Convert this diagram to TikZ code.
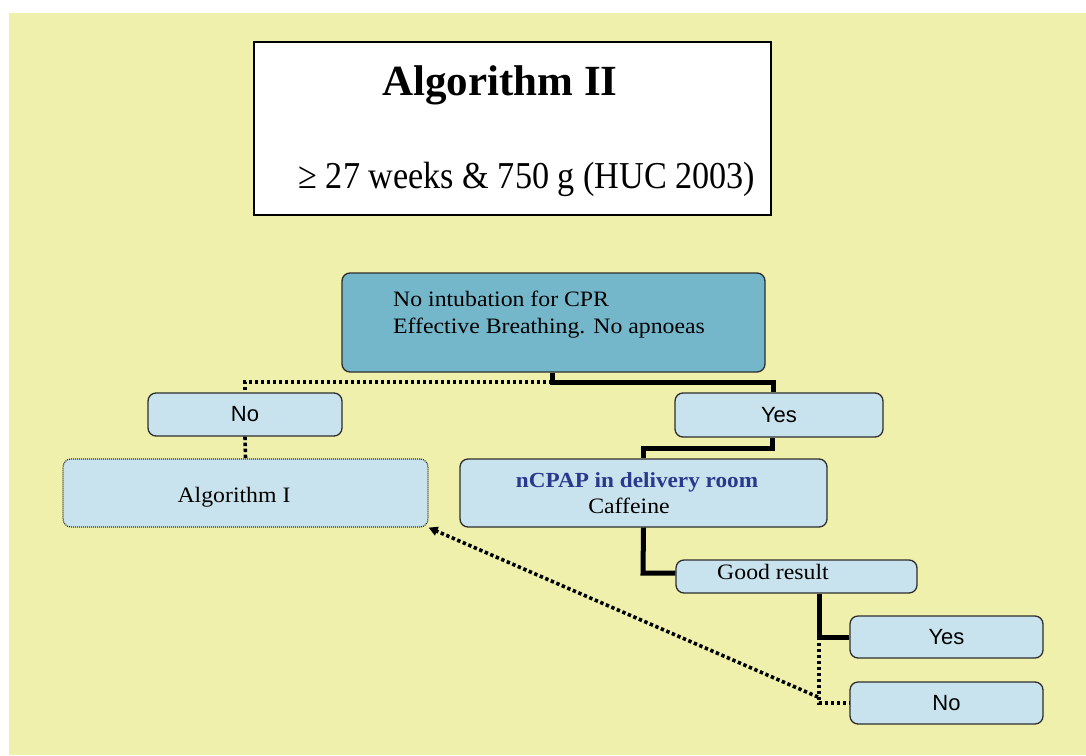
\documentclass[tikz,border=0pt]{standalone}
\usepackage{fontspec}
\setmainfont[FakeStretch=1.08]{Liberation Serif}
\newfontfamily\titlefont{Liberation Serif}
\newfontfamily\subtitlefont[FakeStretch=0.9]{Liberation Serif}
\newfontfamily\arialf{Liberation Sans}
\usetikzlibrary{arrows.meta}
\definecolor{bgyellow}{RGB}{239,240,171}
\definecolor{topblue}{RGB}{117,183,202}
\definecolor{lightblue}{RGB}{201,227,238}
\definecolor{boxborder}{RGB}{45,45,45}
\definecolor{navy}{RGB}{43,57,140}
\tikzset{
  flowbox/.style={draw=boxborder, line width=1.3pt, rounded corners=8pt, fill=lightblue, inner sep=0pt},
  dotbox/.style={draw=boxborder, line width=1.2pt, dash pattern=on 1pt off 1pt, rounded corners=8pt, fill=lightblue, inner sep=0pt},
  solidconn/.style={draw=black, line width=5pt},
  dotconn/.style={draw=black, line width=3.6pt, dash pattern=on 3.4pt off 2.6pt},
  sanslabel/.style={font=\arialf\fontsize{22}{26}\selectfont, inner sep=0pt},
  seriflabel/.style={font=\fontsize{22}{26}\selectfont, inner sep=0pt},
}
\begin{document}
\begin{tikzpicture}[x=1pt,y=-1pt]
\useasboundingbox (0,0) rectangle (1086,755);
\fill[white] (0,0) rectangle (1086,755);
\fill[bgyellow] (9,13) rectangle (1086,755);

% title box
\node[draw=black, line width=1.6pt, fill=white, minimum width=517pt, minimum height=173pt, inner sep=0pt] (titlebox) at (512.5,128.5) {};
\node[font=\titlefont\bfseries\fontsize{43}{48}\selectfont, inner sep=0pt, anchor=base] (title) at (500,95) {Algorithm II};
\node[font=\subtitlefont\fontsize{38}{44}\selectfont, inner sep=0pt, anchor=base] (subtitle) at (527,188) {≥ 27 weeks \& 750 g (HUC 2003)};

% boxes
\node[flowbox, fill=topblue, minimum width=423pt, minimum height=99pt] (top) at (553.5,322.5) {};
\node[seriflabel, anchor=base west] (topline1) at (393,306) {No intubation for CPR};
\node[seriflabel, anchor=base west] (topline2) at (393,333) {Effective Breathing. No apnoeas};

\node[flowbox, minimum width=194pt, minimum height=43pt, sanslabel] (no) at (245,414.5) {No};
\node[flowbox, minimum width=208pt, minimum height=44pt, sanslabel] (yes) at (779,415) {Yes};
\node[dotbox, minimum width=365pt, minimum height=68pt] (alg) at (245.5,493) {};
\node[seriflabel, anchor=base] (algtext) at (234,502) {Algorithm I};
\node[flowbox, minimum width=367pt, minimum height=68pt] (ncpap) at (643.5,493) {};
\node[seriflabel, anchor=base, font=\bfseries\fontsize{21.5}{24}\selectfont, text=navy] (ncpapline1) at (637,487) {nCPAP in delivery room};
\node[seriflabel, anchor=base] (ncpapline2) at (629,513) {Caffeine};
\node[flowbox, minimum width=241pt, minimum height=33pt] (good) at (796.5,576.5) {};
\node[seriflabel, anchor=base] (goodtext) at (773,579) {Good result};
\node[flowbox, minimum width=193pt, minimum height=42pt, sanslabel] (yes2) at (946.5,637) {Yes};
\node[flowbox, minimum width=193pt, minimum height=42pt, sanslabel] (no2) at (946.5,703) {No};

% junction coordinates
\coordinate (j1) at (552,382);
\coordinate (j2) at (773,382);
\coordinate (j3) at (772,448);
\coordinate (j4) at (819,637);
\coordinate (j5) at (818,697);
\coordinate (j6) at (643,573);

% connectors
\draw[dotconn] (j1) -| (no.north);
\draw[dotconn] (no.south) -- (alg.north);
\draw[solidconn] (top.south -| j1) -- (j1) -- (j2) -- (j2 |- yes.north);
\draw[solidconn] (yes.south -| j3) -- (j3) -| (ncpap.north);
\draw[solidconn] (ncpap.south) -- (j6) -- (j6 -| good.west);
\draw[solidconn] (good.south -| j4) -- (j4) -- (yes2.west);
\draw[dotconn] (j4) |- (no2.west);
\draw[dotconn, -{Triangle[length=9pt,width=9pt]}] (j5) -- (alg.south east);
\end{tikzpicture}
\end{document}
